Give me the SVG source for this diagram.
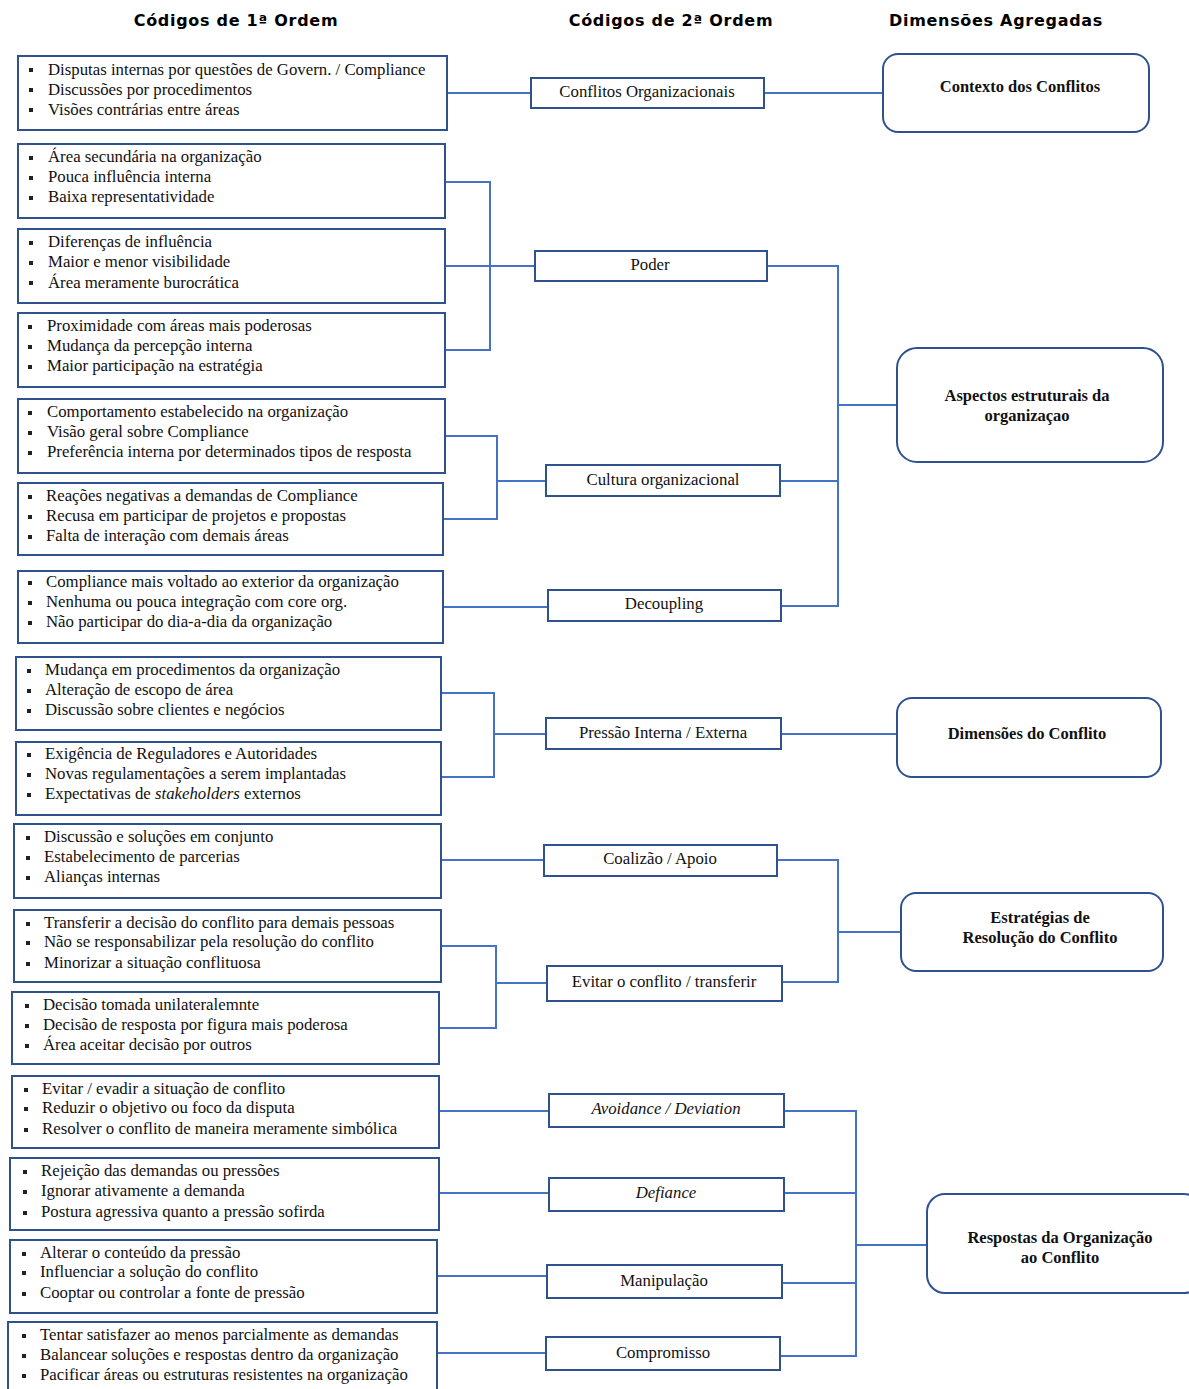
<svg xmlns="http://www.w3.org/2000/svg" width="1189" height="1389" viewBox="0 0 1189 1389">
<style>
.hdr{font-family:"DejaVu Sans",sans-serif;font-weight:bold;font-size:16px;letter-spacing:0.7px;fill:#000;text-anchor:middle}
.box{fill:#fff;stroke:#2F528F;stroke-width:2}
.rbox{fill:#fff;stroke:#2F528F;stroke-width:2}
.it{font-family:"Liberation Serif","Times New Roman",serif;font-size:16.8px;fill:#111}
.lbl{font-family:"Liberation Serif","Times New Roman",serif;font-size:16.8px;fill:#111;text-anchor:middle}
.dim{font-family:"Liberation Serif","Times New Roman",serif;font-size:16.5px;font-weight:bold;fill:#111;text-anchor:middle}
.con{fill:none;stroke:#4472C4;stroke-width:2}
</style>
<defs>
<rect id="b" width="4" height="4" fill="#222"/>
</defs>
<rect width="1189" height="1389" fill="#fff"/>

<g id="headers">
<text class="hdr" x="236" y="26">Códigos de 1ª Ordem</text>
<text class="hdr" x="671" y="26">Códigos de 2ª Ordem</text>
<text class="hdr" x="996" y="26">Dimensões Agregadas</text>
</g>

<g id="connectors">
<path class="con" d="M447,93 H531 M764,93 H883"/>
<path class="con" d="M445,182 H490 V350 H445 M445,266 H535"/>
<path class="con" d="M767,266 H838 V606 H781 M780,481 H838 M838,405 H897"/>
<path class="con" d="M445,436 H497 V519 H443 M497,481 H546"/>
<path class="con" d="M443,607 H548"/>
<path class="con" d="M441,693 H494 V777 H441 M494,734 H546 M781,734 H897"/>
<path class="con" d="M441,860 H544"/>
<path class="con" d="M777,860 H838 V982 H782 M838,932 H901"/>
<path class="con" d="M441,946 H496 V1028 H439 M496,983 H547"/>
<path class="con" d="M439,1111 H549 M439,1193 H549 M437,1276 H547 M437,1353 H546"/>
<path class="con" d="M784,1111 H856 V1356 H780 M784,1193 H856 M782,1283 H856 M856,1245 H927"/>
</g>

<g id="n1"><rect class="box" x="18" y="56" width="429" height="74"/>
<use href="#b" x="29" y="68"/><use href="#b" x="29" y="88"/><use href="#b" x="29" y="108"/>
<text class="it" x="48" y="75">Disputas internas por questões de Govern. / Compliance</text>
<text class="it" x="48" y="95">Discussões por procedimentos</text>
<text class="it" x="48" y="115">Visões contrárias entre áreas</text></g>

<g id="n2"><rect class="box" x="18" y="144" width="427" height="74"/>
<use href="#b" x="29" y="156"/><use href="#b" x="29" y="176"/><use href="#b" x="29" y="196"/>
<text class="it" x="48" y="162">Área secundária na organização</text>
<text class="it" x="48" y="182">Pouca influência interna</text>
<text class="it" x="48" y="202">Baixa representatividade</text></g>

<g id="n3"><rect class="box" x="18" y="229" width="427" height="74"/>
<use href="#b" x="29" y="241"/><use href="#b" x="29" y="261"/><use href="#b" x="29" y="281"/>
<text class="it" x="48" y="247">Diferenças de influência</text>
<text class="it" x="48" y="267">Maior e menor visibilidade</text>
<text class="it" x="48" y="288">Área meramente burocrática</text></g>

<g id="n4"><rect class="box" x="18" y="313" width="427" height="74"/>
<use href="#b" x="28" y="325"/><use href="#b" x="28" y="345"/><use href="#b" x="28" y="365"/>
<text class="it" x="47" y="331">Proximidade com áreas mais poderosas</text>
<text class="it" x="47" y="351">Mudança da percepção interna</text>
<text class="it" x="47" y="371">Maior participação na estratégia</text></g>

<g id="n5"><rect class="box" x="18" y="399" width="427" height="74"/>
<use href="#b" x="28" y="411"/><use href="#b" x="28" y="431"/><use href="#b" x="28" y="451"/>
<text class="it" x="47" y="417">Comportamento estabelecido na organização</text>
<text class="it" x="47" y="437">Visão geral sobre Compliance</text>
<text class="it" x="47" y="457">Preferência interna por determinados tipos de resposta</text></g>

<g id="n6"><rect class="box" x="18" y="483" width="425" height="72"/>
<use href="#b" x="28" y="495"/><use href="#b" x="28" y="515"/><use href="#b" x="28" y="535"/>
<text class="it" x="46" y="501">Reações negativas a demandas de Compliance</text>
<text class="it" x="46" y="521">Recusa em participar de projetos e propostas</text>
<text class="it" x="46" y="541">Falta de interação com demais áreas</text></g>

<g id="n7"><rect class="box" x="18" y="571" width="425" height="72"/>
<use href="#b" x="28" y="581"/><use href="#b" x="28" y="601"/><use href="#b" x="28" y="621"/>
<text class="it" x="46" y="587">Compliance mais voltado ao exterior da organização</text>
<text class="it" x="46" y="607">Nenhuma ou pouca integração com core org.</text>
<text class="it" x="46" y="627">Não participar do dia-a-dia da organização</text></g>

<g id="n8"><rect class="box" x="16" y="657" width="425" height="73"/>
<use href="#b" x="27" y="669"/><use href="#b" x="27" y="689"/><use href="#b" x="27" y="709"/>
<text class="it" x="45" y="675">Mudança em procedimentos da organização</text>
<text class="it" x="45" y="695">Alteração de escopo de área</text>
<text class="it" x="45" y="715">Discussão sobre clientes e negócios</text></g>

<g id="n9"><rect class="box" x="16" y="742" width="425" height="73"/>
<use href="#b" x="27" y="753"/><use href="#b" x="27" y="773"/><use href="#b" x="27" y="793"/>
<text class="it" x="45" y="759">Exigência de Reguladores e Autoridades</text>
<text class="it" x="45" y="779">Novas regulamentações a serem implantadas</text>
<text class="it" x="45" y="799">Expectativas de <tspan font-style="italic">stakeholders</tspan> externos</text></g>

<g id="n10"><rect class="box" x="14" y="824" width="427" height="74"/>
<use href="#b" x="26" y="836"/><use href="#b" x="26" y="856"/><use href="#b" x="26" y="876"/>
<text class="it" x="44" y="842">Discussão e soluções em conjunto</text>
<text class="it" x="44" y="862">Estabelecimento de parcerias</text>
<text class="it" x="44" y="882">Alianças internas</text></g>

<g id="n11"><rect class="box" x="14" y="910" width="427" height="72"/>
<use href="#b" x="26" y="922"/><use href="#b" x="26" y="941"/><use href="#b" x="26" y="962"/>
<text class="it" x="44" y="928">Transferir a decisão do conflito para demais pessoas</text>
<text class="it" x="44" y="947">Não se responsabilizar pela resolução do conflito</text>
<text class="it" x="44" y="968">Minorizar a situação conflituosa</text></g>

<g id="n12"><rect class="box" x="12" y="992" width="427" height="72"/>
<use href="#b" x="25" y="1004"/><use href="#b" x="25" y="1024"/><use href="#b" x="25" y="1044"/>
<text class="it" x="43" y="1010">Decisão tomada unilateralemnte</text>
<text class="it" x="43" y="1030">Decisão de resposta por figura mais poderosa</text>
<text class="it" x="43" y="1050">Área aceitar decisão por outros</text></g>

<g id="n13"><rect class="box" x="12" y="1076" width="427" height="72"/>
<use href="#b" x="24" y="1088"/><use href="#b" x="24" y="1107"/><use href="#b" x="24" y="1128"/>
<text class="it" x="42" y="1094">Evitar / evadir a situação de conflito</text>
<text class="it" x="42" y="1113">Reduzir o objetivo ou foco da disputa</text>
<text class="it" x="42" y="1134">Resolver o conflito de maneira meramente simbólica</text></g>

<g id="n14"><rect class="box" x="10" y="1158" width="429" height="72"/>
<use href="#b" x="23" y="1170"/><use href="#b" x="23" y="1190"/><use href="#b" x="23" y="1211"/>
<text class="it" x="41" y="1176">Rejeição das demandas ou pressões</text>
<text class="it" x="41" y="1196">Ignorar ativamente a demanda</text>
<text class="it" x="41" y="1217">Postura agressiva quanto a pressão sofirda</text></g>

<g id="n15"><rect class="box" x="10" y="1240" width="427" height="73"/>
<use href="#b" x="22" y="1252"/><use href="#b" x="22" y="1271"/><use href="#b" x="22" y="1292"/>
<text class="it" x="40" y="1258">Alterar o conteúdo da pressão</text>
<text class="it" x="40" y="1277">Influenciar a solução do conflito</text>
<text class="it" x="40" y="1298">Cooptar ou controlar a fonte de pressão</text></g>

<g id="n16"><rect class="box" x="8" y="1322" width="429" height="80"/>
<use href="#b" x="22" y="1334"/><use href="#b" x="22" y="1354"/><use href="#b" x="22" y="1374"/>
<text class="it" x="40" y="1340">Tentar satisfazer ao menos parcialmente as demandas</text>
<text class="it" x="40" y="1360">Balancear soluções e respostas dentro da organização</text>
<text class="it" x="40" y="1380">Pacificar áreas ou estruturas resistentes na organização</text></g>

<g id="s1"><rect class="box" x="531" y="78" width="233" height="30"/><text class="lbl" x="647" y="97">Conflitos Organizacionais</text></g>
<g id="s2"><rect class="box" x="535" y="251" width="232" height="30"/><text class="lbl" x="650" y="270">Poder</text></g>
<g id="s3"><rect class="box" x="546" y="465" width="234" height="31"/><text class="lbl" x="663" y="485">Cultura organizacional</text></g>
<g id="s4"><rect class="box" x="548" y="590" width="233" height="31"/><text class="lbl" x="664" y="609">Decoupling</text></g>
<g id="s5"><rect class="box" x="546" y="718" width="235" height="31"/><text class="lbl" x="663" y="738">Pressão Interna / Externa</text></g>
<g id="s6"><rect class="box" x="544" y="845" width="233" height="31"/><text class="lbl" x="660" y="864">Coalizão / Apoio</text></g>
<g id="s7"><rect class="box" x="547" y="966" width="235" height="35"/><text class="lbl" x="664" y="987">Evitar o conflito / transferir</text></g>
<g id="s8"><rect class="box" x="549" y="1094" width="235" height="33"/><text class="lbl" x="666" y="1114" font-style="italic">Avoidance / Deviation</text></g>
<g id="s9"><rect class="box" x="549" y="1178" width="235" height="33"/><text class="lbl" x="666" y="1198" font-style="italic">Defiance</text></g>
<g id="s10"><rect class="box" x="547" y="1265" width="235" height="33"/><text class="lbl" x="664" y="1286">Manipulação</text></g>
<g id="s11"><rect class="box" x="546" y="1337" width="234" height="33"/><text class="lbl" x="663" y="1358">Compromisso</text></g>

<g id="d1"><rect class="rbox" x="883" y="54" width="266" height="78" rx="15"/><text class="dim" x="1020" y="92">Contexto dos Conflitos</text></g>
<g id="d2"><rect class="rbox" x="897" y="348" width="266" height="114" rx="20"/><text class="dim" x="1027" y="401">Aspectos estruturais da</text><text class="dim" x="1027" y="421">organizaçao</text></g>
<g id="d3"><rect class="rbox" x="897" y="698" width="264" height="79" rx="15"/><text class="dim" x="1027" y="739">Dimensões do Conflito</text></g>
<g id="d4"><rect class="rbox" x="901" y="893" width="262" height="78" rx="15"/><text class="dim" x="1040" y="923">Estratégias de</text><text class="dim" x="1040" y="943">Resolução do Conflito</text></g>
<g id="d5"><rect class="rbox" x="927" y="1194" width="275" height="99" rx="18"/><text class="dim" x="1060" y="1243">Respostas da Organização</text><text class="dim" x="1060" y="1263">ao Conflito</text></g>
</svg>
